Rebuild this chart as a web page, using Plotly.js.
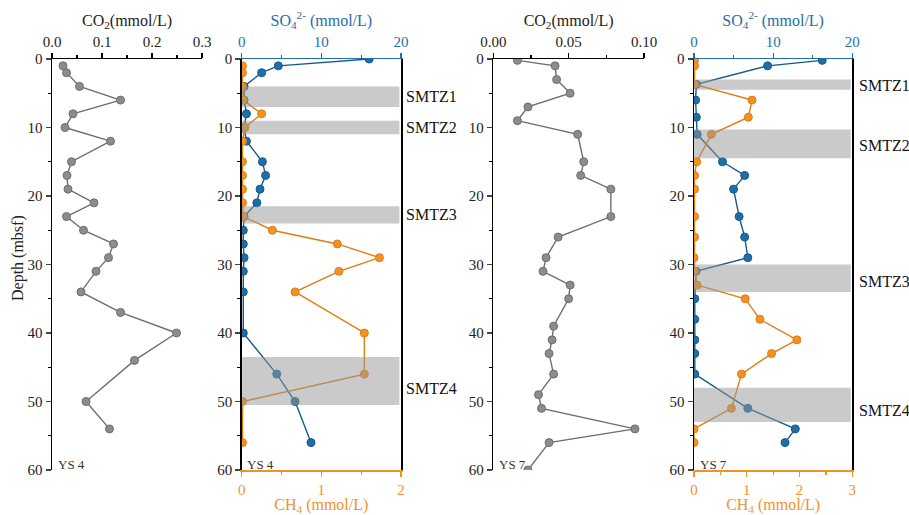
<!DOCTYPE html>
<html>
<head>
<meta charset="utf-8">
<script src="https://cdn.plot.ly/plotly-3.0.1.min.js"></script>
<style>html,body{margin:0;padding:0;background:#fff;}#chart{width:909px;height:515px;}</style>
</head>
<body>
<div id="chart"></div>
<script>
// ---- YS 4 ----
const ys4Co2Depth = [1,2,4,6,8,10,12,15,17,19,21,23,25,27,29,31,34,37,40,44,50,54];
const ys4Co2 = [0.022,0.029,0.055,0.137,0.042,0.026,0.117,0.039,0.030,0.032,0.084,0.029,0.063,0.123,0.113,0.088,0.058,0.137,0.249,0.165,0.068,0.115];
const ys4So4Depth = [0,1,2,4,6,8,10,12,15,17,19,21,23,25,27,29,31,34,40,46,50,56];
const ys4So4 = [16.0,4.6,2.5,0.3,0.3,0.6,0.3,0.6,2.6,3.0,2.3,1.9,0.3,0.2,0.2,0.3,0.2,0.2,0.2,4.4,6.7,8.7];
const ys4Ch4Depth = [1,2,4,6,8,10,12,15,17,19,21,23,25,27,29,31,34,40,46,50,56];
const ys4Ch4 = [0.01,0.01,0.01,0.02,0.25,0.04,0.01,0.01,0.01,0.01,0.01,0.02,0.385,1.20,1.73,1.22,0.67,1.54,1.54,0.01,0.01];
const ys4Smtz = [["SMTZ1",4,7,5.5],["SMTZ2",9,11,10],["SMTZ3",21.5,24,22.7],["SMTZ4",43.5,50.5,48.1]];

// ---- YS 7 ----
const ys7Co2Depth = [0.2,1,3,5,7,9,11,15,17,19,23,26,29,31,33,35,39,41,43,46,49,51,54,56,60];
const ys7Co2 = [0.016,0.041,0.042,0.051,0.023,0.016,0.056,0.060,0.058,0.078,0.078,0.043,0.035,0.033,0.051,0.050,0.040,0.039,0.037,0.040,0.030,0.032,0.094,0.037,0.023];
const ys7So4Depth = [0.2,1,3.7,6,8.5,11,15,17,19,23,26,29,31,35,38,41,43,46,51,54,56];
const ys7So4 = [16.2,9.3,0.3,0.2,0.3,0.4,3.6,6.4,5.0,5.7,6.4,6.8,0.25,0.1,0.1,0.1,0.1,0.1,6.8,12.8,11.5];
const ys7Ch4Depth = [0.2,1,3.7,6,8.5,11,15,17,19,23,26,29,31,33,35,38,41,43,46,51,54,56];
const ys7Ch4 = [0.01,0.01,0.01,1.1,1.03,0.33,0.05,0.01,0.01,0.01,0.01,0.0,0.01,0.06,0.97,1.25,1.95,1.47,0.9,0.71,0.0,0.0];
const ys7Smtz = [["SMTZ1",3,4.5,3.9],["SMTZ2",10.3,14.5,12.7],["SMTZ3",30,34,32.5],["SMTZ4",48,53,51.3]];

const FONT = "Liberation Serif";
const GRAY = "#8c8c8c", GRAYL = "#6e6e6e";
const BLUE = "#1f6ea8", ORANGE = "#f39224";

function series(x, y, xa, ya, color, lineColor, name) {
  return {type:"scatter", mode:"lines+markers", x:x, y:y, xaxis:xa, yaxis:ya, name:name,
    line:{color:lineColor, width:1.4},
    marker:{size:8, color:color, line:{color:lineColor, width:1}}, showlegend:false};
}

const data = [
  series(ys4Co2, ys4Co2Depth, "x", "y", GRAY, GRAYL, "CO2 YS4"),
  series(ys4Ch4, ys4Ch4Depth, "x3", "y2", ORANGE, "#e07d10", "CH4 YS4"),
  series(ys4So4, ys4So4Depth, "x2", "y2", BLUE, "#155a8a", "SO4 YS4"),
  series(ys7Co2, ys7Co2Depth, "x4", "y3", GRAY, GRAYL, "CO2 YS7"),
  series(ys7Ch4, ys7Ch4Depth, "x6", "y4", ORANGE, "#e07d10", "CH4 YS7"),
  series(ys7So4, ys7So4Depth, "x5", "y4", BLUE, "#155a8a", "SO4 YS7")
];

const tickF = {family:FONT, size:15, color:"#222"};
function yax(anchor, mirror) {
  return {anchor:anchor, domain:[0,1], range:[60,0], dtick:10, ticks:"outside", ticklen:5, tickwidth:1.2,
    minor:{dtick:5, ticks:"outside", ticklen:3, tickcolor:"#000"},
    showline:true, linecolor:"#000", linewidth:1.5, mirror:mirror, showgrid:false, zeroline:false,
    tickfont:tickF, fixedrange:true};
}
function xax(dom, anchor, side, range, dtick, minor, color, titleText, fmt, overlay, standoff) {
  const tc = color === "#000" ? "#222" : color;
  const a = {domain:dom, anchor:anchor, side:side, range:range, dtick:dtick, tick0:0,
    ticks:"outside", ticklen:5, tickwidth:1.2, tickcolor:color,
    minor:{dtick:minor, ticks:"outside", ticklen:3, tickcolor:color},
    showline:true, linecolor:color, linewidth:1.5, showgrid:false, zeroline:false,
    tickfont:{family:FONT, size:15, color:tc},
    title:{text:titleText, font:{family:FONT, size:16, color:tc}, standoff:standoff},
    fixedrange:true};
  if (fmt) a.tickformat = fmt;
  if (overlay) a.overlaying = overlay;
  return a;
}

const d1 = [52/909, 202/909], d2 = [241.7/909, 401/909], d3 = [493.3/909, 644/909], d4 = [694/909, 852.3/909];
const py = p => (470 - p) / 411;

const shapes = [], annotations = [];
ys4Smtz.forEach(s => {
  shapes.push({type:"rect", xref:"x2", yref:"y2", x0:0, x1:19.8, y0:s[1], y1:s[2], layer:"above",
    fillcolor:"rgba(150,150,150,0.5)", line:{width:0}});
  annotations.push({xref:"paper", yref:"y2", x:404/909, y:s[3], text:s[0], showarrow:false,
    xanchor:"left", yanchor:"middle", font:{family:FONT, size:16, color:"#111"}});
});
ys7Smtz.forEach(s => {
  shapes.push({type:"rect", xref:"x5", yref:"y4", x0:0, x1:19.8, y0:s[1], y1:s[2], layer:"above",
    fillcolor:"rgba(150,150,150,0.5)", line:{width:0}});
  annotations.push({xref:"paper", yref:"y4", x:857/909, y:s[3], text:s[0], showarrow:false,
    xanchor:"left", yanchor:"middle", font:{family:FONT, size:16, color:"#111"}});
});
[["YS 4", 56],["YS 4", 245],["YS 7", 497],["YS 7", 698]].forEach(l => {
  annotations.push({xref:"paper", yref:"paper", x:l[1]/909, y:py(464), text:l[0], showarrow:false,
    xanchor:"left", yanchor:"middle", font:{family:FONT, size:13, color:"#333"}});
});
annotations.push({xref:"paper", yref:"paper", x:18/909, y:py(258), text:"Depth (mbsf)", textangle:-90,
  showarrow:false, xanchor:"center", yanchor:"middle", font:{family:FONT, size:16, color:"#222"}});

const layout = {
  width:909, height:515, margin:{l:0, r:0, t:59, b:45}, paper_bgcolor:"#fff", plot_bgcolor:"rgba(0,0,0,0)",
  font:{family:FONT, size:15}, showlegend:false,
  xaxis: xax(d1, "y", "top", [0,0.3], 0.1, 0.05, "#000", "CO<sub>2</sub>(mmol/L)", ".1f", null, 3),
  yaxis: yax("x", false),
  xaxis2: xax(d2, "y2", "top", [0,20], 10, 5, BLUE, "SO<sub>4</sub><sup>2-</sup> (mmol/L)", null, null, 3),
  xaxis3: xax(d2, "y2", "bottom", [0,2], 1, 0.5, ORANGE, "CH<sub>4</sub> (mmol/L)", null, "x2", 5),
  yaxis2: yax("x2", true),
  xaxis4: xax(d3, "y3", "top", [0,0.1], 0.05, 0.025, "#000", "CO<sub>2</sub>(mmol/L)", ".2f", null, 3),
  yaxis3: yax("x4", false),
  xaxis5: xax(d4, "y4", "top", [0,20], 10, 5, BLUE, "SO<sub>4</sub><sup>2-</sup> (mmol/L)", null, null, 3),
  xaxis6: xax(d4, "y4", "bottom", [0,3], 1, 0.5, ORANGE, "CH<sub>4</sub> (mmol/L)", null, "x5", 5),
  yaxis4: yax("x5", true),
  shapes: shapes, annotations: annotations
};

Plotly.newPlot("chart", data, layout, {displayModeBar:false, staticPlot:true});
</script>
</body>
</html>
